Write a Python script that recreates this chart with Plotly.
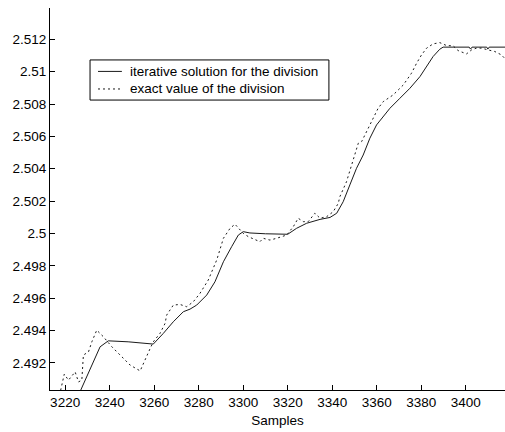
import plotly.graph_objects as go

# Iterative solution for the division (solid)
iter_samples = [3226.0, 3227.0, 3235.7, 3239.4, 3248.3, 3258.2, 3259.6, 3264.1, 3268.6,
                3273.1, 3276.1, 3279.1, 3283.6, 3287.3, 3291.1, 3294.8, 3297.8, 3300.0,
                3303.0, 3310.0, 3320.0, 3324.0, 3328.5, 3334.5, 3339.0, 3342.0, 3344.9,
                3347.9, 3350.9, 3353.9, 3356.9, 3359.9, 3362.9, 3365.9, 3370.4, 3374.9,
                3379.4, 3382.4, 3385.3, 3388.3, 3389.8, 3401.5, 3402.1, 3402.8, 3409.4,
                3409.9, 3410.5, 3418.0]
iter_values = [2.4898, 2.49031, 2.49299, 2.49336, 2.49330, 2.49320, 2.49316, 2.49382, 2.49454,
               2.49516, 2.49532, 2.49557, 2.49619, 2.49701, 2.49825, 2.49918, 2.49990, 2.50011,
               2.50003, 2.49998, 2.49995, 2.50032, 2.50063, 2.50087, 2.50099, 2.50125, 2.50196,
               2.50300, 2.50403, 2.50485, 2.50589, 2.50671, 2.50722, 2.50774, 2.50836, 2.50898,
               2.50970, 2.51032, 2.51094, 2.51139, 2.51152, 2.51152, 2.51140, 2.51152, 2.51152,
               2.51140, 2.51152, 2.51152]

# Exact value of the division (dotted)
exact_samples = [3217.5, 3219.6, 3221.5, 3224.5, 3226.0, 3227.5, 3228.2, 3230.5, 3232.0,
                 3234.2, 3237.2, 3241.0, 3249.2, 3253.7, 3258.2, 3259.6, 3262.6, 3264.9,
                 3265.6, 3268.6, 3271.6, 3274.6, 3277.6, 3280.6, 3284.3, 3288.1, 3291.1,
                 3294.1, 3296.3, 3297.8, 3300.0, 3302.3, 3306.0, 3307.5, 3309.0, 3312.0,
                 3315.0, 3319.5, 3322.5, 3324.7, 3327.0, 3329.2, 3332.2, 3334.5, 3337.5,
                 3340.4, 3342.7, 3343.4, 3346.4, 3348.7, 3350.2, 3351.7, 3353.2, 3355.4,
                 3358.4, 3360.6, 3362.9, 3367.4, 3371.9, 3375.6, 3377.9, 3380.1, 3382.4,
                 3385.3, 3388.3, 3391.3, 3394.3, 3396.5, 3400.3, 3402.6, 3404.8, 3407.0,
                 3410.0, 3413.0, 3416.0, 3418.0]
exact_values = [2.4900, 2.4913, 2.49093, 2.49144, 2.49082, 2.49093, 2.49248, 2.49268, 2.49330,
                2.49402, 2.49361, 2.49299, 2.49186, 2.49150, 2.49289, 2.49330, 2.49382, 2.49444,
                2.49495, 2.49557, 2.49561, 2.49547, 2.49578, 2.49630, 2.49712, 2.49836, 2.49970,
                2.50032, 2.50057, 2.50032, 2.50001, 2.49980, 2.49959, 2.49949, 2.49970, 2.49959,
                2.49970, 2.49990, 2.50042, 2.50094, 2.50073, 2.50073, 2.50125, 2.50094, 2.50104,
                2.50134, 2.50186, 2.50227, 2.50320, 2.50423, 2.50496, 2.50558, 2.50568, 2.50629,
                2.50722, 2.50774, 2.50815, 2.50857, 2.50918, 2.50991, 2.51053, 2.51104, 2.51146,
                2.51172, 2.51180, 2.51162, 2.51160, 2.51131, 2.51110, 2.51135, 2.51146, 2.51146,
                2.51135, 2.51125, 2.51104, 2.51075]

x_ticks = [3220, 3240, 3260, 3280, 3300, 3320, 3340, 3360, 3380, 3400]
y_ticks = [2.492, 2.494, 2.496, 2.498, 2.5, 2.502, 2.504, 2.506, 2.508, 2.51, 2.512]
y_tick_labels = ["2.492", "2.494", "2.496", "2.498", "2.5", "2.502", "2.504",
                 "2.506", "2.508", "2.51", "2.512"]

series_names = ["iterative solution for the division", "exact value of the division"]

FONT = "Liberation Sans, Arial, sans-serif"
FS = 13.5
LINE_COLOR = "#1a1a1a"
DOTS = "2px,3px"

fig = go.Figure()
fig.add_trace(go.Scatter(
    x=iter_samples, y=iter_values, mode="lines", name=series_names[0],
    line=dict(color=LINE_COLOR, width=1),
))
fig.add_trace(go.Scatter(
    x=exact_samples, y=exact_values, mode="lines", name=series_names[1],
    line=dict(color=LINE_COLOR, width=1, dash=DOTS),
))

# Boxed legend drawn in paper coordinates
box_x0, box_x1 = 0.088, 0.613
box_y0, box_y1 = 0.759, 0.864
row_y = [0.834, 0.788]
sample_x0, sample_x1 = 0.1055, 0.158
text_x = 0.172

shapes = [dict(type="rect", xref="paper", yref="paper",
               x0=box_x0, x1=box_x1, y0=box_y0, y1=box_y1,
               line=dict(color="black", width=1), fillcolor="white", layer="above")]
shapes.append(dict(type="line", xref="paper", yref="paper",
                   x0=sample_x0, x1=sample_x1, y0=row_y[0], y1=row_y[0],
                   line=dict(color=LINE_COLOR, width=1), layer="above"))
shapes.append(dict(type="line", xref="paper", yref="paper",
                   x0=sample_x0, x1=sample_x1, y0=row_y[1], y1=row_y[1],
                   line=dict(color=LINE_COLOR, width=1, dash=DOTS), layer="above"))

annotations = [dict(xref="paper", yref="paper", x=text_x, y=yy, text=name,
                    showarrow=False, xanchor="left", yanchor="middle",
                    font=dict(family=FONT, size=FS, color="black"))
               for name, yy in zip(series_names, row_y)]

fig.update_layout(
    width=505, height=432,
    margin=dict(l=50, r=0, t=8, b=42),
    paper_bgcolor="white", plot_bgcolor="white",
    font=dict(family=FONT, size=FS, color="black"),
    showlegend=False,
    shapes=shapes,
    annotations=annotations,
    xaxis=dict(
        range=[3213.2, 3417.6], tickvals=x_ticks,
        ticks="inside", ticklen=5, tickcolor="black",
        showline=True, linecolor="black", linewidth=1,
        showgrid=False, zeroline=False,
        ticklabelstandoff=0,
        title=dict(text="Samples", standoff=6, font=dict(size=FS)),
        tickfont=dict(size=FS),
    ),
    yaxis=dict(
        range=[2.49032, 2.51394], tickvals=y_ticks, ticktext=y_tick_labels,
        ticks="inside", ticklen=5, tickcolor="black",
        showline=True, linecolor="black", linewidth=1,
        showgrid=False, zeroline=False,
        tickfont=dict(size=FS),
    ),
)

fig.write_html("out.html")
